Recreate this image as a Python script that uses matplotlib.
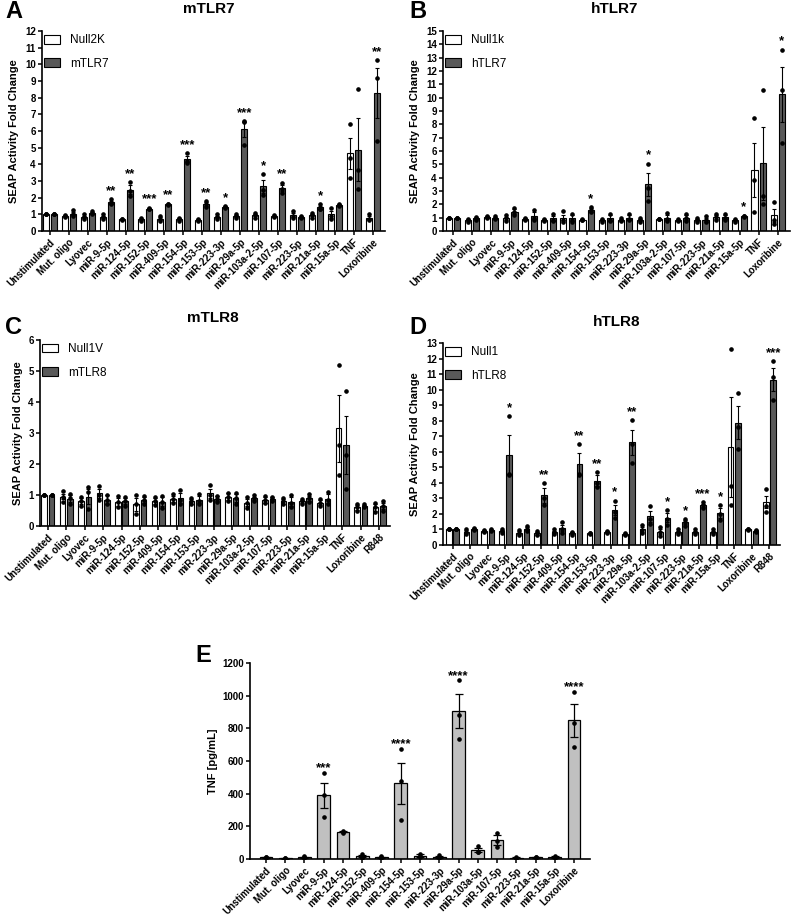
import numpy as np
import matplotlib.pyplot as plt

plt.rcParams['font.family'] = ['Liberation Sans', 'DejaVu Sans']
plt.rcParams['font.weight'] = 'bold'
plt.rcParams['axes.labelweight'] = 'bold'

# ---------------- data ----------------
labels_ab = ["Unstimulated", "Mut. oligo", "Lyovec", "miR-9-5p", "miR-124-5p", "miR-152-5p",
             "miR-409-5p", "miR-154-5p", "miR-153-5p", "miR-223-3p", "miR-29a-5p",
             "miR-103a-2-5p", "miR-107-5p", "miR-223-5p", "miR-21a-5p", "miR-15a-5p",
             "TNF", "Loxoribine"]
labels_cd = labels_ab + ["R848"]
labels_e = ["Unstimulated", "Mut. oligo", "Lyovec", "miR-9-5p", "miR-124-5p", "miR-152-5p",
            "miR-409-5p", "miR-154-5p", "miR-153-5p", "miR-223-3p", "miR-29a-5p",
            "miR-103a-5p", "miR-107-5p", "miR-223-5p", "miR-21a-5p", "miR-15a-5p", "Loxoribine"]

# A: mTLR7
a_null_mean = [1.0, 0.92, 0.85, 0.85, 0.70, 0.70, 0.75, 0.70, 0.68, 0.85, 0.90, 0.95, 0.90, 0.95, 0.95, 1.00, 4.65, 0.80]
a_null_sem = [0.01, 0.03, 0.08, 0.08, 0.01, 0.05, 0.08, 0.06, 0.04, 0.08, 0.07, 0.07, 0.03, 0.12, 0.07, 0.20, 0.95, 0.10]
a_null_pts = [[1, 1, 1], [0.97, 0.92, 0.87], [1.0, 0.85, 0.7], [1.0, 0.85, 0.7], [0.72, 0.7, 0.68],
              [0.8, 0.7, 0.6], [0.9, 0.75, 0.6], [0.8, 0.7, 0.6], [0.75, 0.68, 0.61], [1.0, 0.85, 0.7],
              [1.05, 0.88, 0.77], [1.1, 0.95, 0.8], [0.95, 0.9, 0.85], [1.2, 0.88, 0.77], [1.1, 0.95, 0.8],
              [1.4, 0.9, 0.7], [6.4, 4.4, 3.15], [1.0, 0.75, 0.65]]
a_tlr_mean = [1.0, 1.05, 1.1, 1.73, 2.48, 1.35, 1.6, 4.32, 1.62, 1.45, 6.1, 2.67, 2.57, 0.85, 1.42, 1.57, 4.88, 8.28]
a_tlr_sem = [0.01, 0.1, 0.06, 0.09, 0.25, 0.03, 0.03, 0.17, 0.1, 0.03, 0.46, 0.38, 0.18, 0.04, 0.09, 0.04, 1.9, 1.5]
a_tlr_pts = [[1, 1, 1], [1.25, 1.0, 0.9], [1.2, 1.1, 1.0], [1.9, 1.7, 1.6], [2.95, 2.4, 2.1], [1.4, 1.35, 1.3],
             [1.65, 1.6, 1.55], [4.65, 4.2, 4.1], [1.8, 1.6, 1.45], [1.5, 1.45, 1.4], [6.6, 6.55, 5.15],
             [3.4, 2.45, 2.15], [2.9, 2.5, 2.3], [0.93, 0.85, 0.77], [1.6, 1.35, 1.3], [1.65, 1.55, 1.5],
             [8.5, 3.65, 2.5], [10.25, 9.2, 5.4]]
a_stars = ["", "", "", "**", "**", "***", "**", "***", "**", "*", "***", "*", "**", "", "*", "", "", "**"]

# B: hTLR7
b_null_mean = [1.0, 0.8, 1.05, 0.95, 0.9, 0.85, 1.0, 0.85, 0.8, 0.85, 0.85, 0.9, 0.8, 0.85, 1.05, 0.8, 4.57, 1.17]
b_null_sem = [0.01, 0.07, 0.04, 0.12, 0.05, 0.04, 0.2, 0.03, 0.06, 0.05, 0.08, 0.02, 0.04, 0.08, 0.12, 0.05, 2.05, 0.5]
b_null_pts = [[1, 1, 1], [0.9, 0.8, 0.7], [1.1, 1.05, 1.0], [1.2, 0.95, 0.75], [1.0, 0.9, 0.8], [0.92, 0.85, 0.78],
              [1.5, 0.85, 0.7], [0.9, 0.85, 0.8], [0.9, 0.8, 0.7], [0.95, 0.85, 0.75], [1.0, 0.85, 0.7],
              [0.92, 0.9, 0.88], [0.88, 0.8, 0.72], [1.0, 0.85, 0.7], [1.25, 1.05, 0.85], [0.9, 0.8, 0.7],
              [8.5, 3.8, 1.4], [2.15, 0.8, 0.55]]
b_tlr_mean = [1.0, 0.95, 1.0, 1.45, 1.15, 0.95, 0.95, 1.6, 0.95, 1.0, 3.5, 1.0, 1.0, 0.85, 1.05, 1.1, 5.07, 10.25]
b_tlr_sem = [0.01, 0.05, 0.06, 0.18, 0.25, 0.18, 0.22, 0.15, 0.22, 0.2, 0.85, 0.2, 0.2, 0.15, 0.12, 0.04, 2.75, 2.05]
b_tlr_pts = [[1, 1, 1], [1.05, 0.95, 0.85], [1.1, 1.0, 0.9], [1.75, 1.4, 1.2], [1.6, 1.0, 0.85],
             [1.25, 0.85, 0.75], [1.3, 0.85, 0.7], [1.8, 1.6, 1.4], [1.3, 0.8, 0.75], [1.3, 0.9, 0.8],
             [5.05, 3.2, 2.25], [1.35, 0.9, 0.75], [1.3, 0.95, 0.75], [1.1, 0.8, 0.65], [1.3, 1.0, 0.85],
             [1.15, 1.1, 1.05], [10.6, 2.6, 2.0], [13.6, 10.6, 6.6]]
b_stars = ["", "", "", "", "", "", "", "*", "", "", "*", "", "", "", "", "*", "", "*"]

# C: mTLR8
c_null_mean = [1.0, 0.95, 0.8, 1.05, 0.78, 0.7, 0.8, 0.88, 0.8, 1.05, 0.95, 0.75, 0.85, 0.8, 0.8, 0.75, 3.15, 0.6, 0.6]
c_null_sem = [0.01, 0.09, 0.1, 0.14, 0.12, 0.2, 0.1, 0.1, 0.08, 0.14, 0.1, 0.12, 0.1, 0.08, 0.05, 0.08, 1.07, 0.08, 0.12]
c_null_pts = [[1, 1, 1], [1.12, 0.95, 0.78], [0.95, 0.8, 0.65], [1.3, 1.0, 0.85], [0.97, 0.78, 0.6],
              [1.0, 0.7, 0.4], [0.92, 0.8, 0.68], [1.02, 0.88, 0.74], [0.9, 0.8, 0.7], [1.32, 1.0, 0.83],
              [1.08, 0.95, 0.82], [0.93, 0.75, 0.57], [0.96, 0.85, 0.74], [0.9, 0.8, 0.7], [0.88, 0.8, 0.72],
              [0.87, 0.75, 0.63], [5.2, 2.62, 1.65], [0.7, 0.6, 0.5], [0.75, 0.6, 0.45]]
c_tlr_mean = [1.0, 0.88, 0.95, 0.85, 0.8, 0.85, 0.78, 0.9, 0.85, 0.88, 0.9, 0.9, 0.88, 0.78, 0.9, 0.88, 2.62, 0.65, 0.65]
c_tlr_sem = [0.01, 0.12, 0.25, 0.15, 0.1, 0.1, 0.15, 0.15, 0.12, 0.08, 0.12, 0.05, 0.06, 0.15, 0.08, 0.15, 0.93, 0.04, 0.1]
c_tlr_pts = [[1, 1, 1], [1.03, 0.9, 0.7], [1.25, 1.1, 0.55], [1.0, 0.85, 0.7], [0.95, 0.8, 0.65],
             [0.98, 0.85, 0.72], [0.98, 0.78, 0.58], [1.15, 0.85, 0.7], [1.03, 0.82, 0.7], [0.98, 0.88, 0.78],
             [1.08, 0.9, 0.72], [1.0, 0.9, 0.8], [0.95, 0.88, 0.8], [1.0, 0.75, 0.6], [1.02, 0.9, 0.78],
             [1.1, 0.85, 0.7], [4.35, 2.3, 1.2], [0.7, 0.65, 0.6], [0.8, 0.65, 0.5]]
c_stars = [""] * 19

# D: hTLR8
d_null_mean = [1.0, 0.85, 0.9, 0.9, 0.8, 0.75, 0.85, 0.75, 0.75, 0.85, 0.7, 1.0, 0.85, 0.85, 0.85, 0.85, 6.3, 1.0, 2.75]
d_null_sem = [0.01, 0.1, 0.05, 0.06, 0.1, 0.08, 0.08, 0.06, 0.04, 0.03, 0.03, 0.15, 0.15, 0.07, 0.07, 0.07, 3.2, 0.05, 0.4]
d_null_pts = [[1, 1, 1], [1.0, 0.85, 0.7], [0.97, 0.9, 0.83], [1.0, 0.9, 0.8], [0.97, 0.8, 0.65],
              [0.9, 0.75, 0.62], [1.0, 0.85, 0.72], [0.85, 0.75, 0.66], [0.8, 0.75, 0.7], [0.9, 0.85, 0.8],
              [0.75, 0.7, 0.65], [1.3, 0.95, 0.75], [1.15, 0.85, 0.6], [1.0, 0.85, 0.72], [1.0, 0.85, 0.72],
              [1.0, 0.85, 0.72], [12.6, 3.8, 2.55], [1.05, 1.0, 0.95], [3.6, 2.5, 2.15]]
d_tlr_mean = [1.0, 1.05, 0.95, 5.8, 1.05, 3.2, 1.1, 5.2, 4.15, 2.25, 6.6, 1.85, 1.75, 1.45, 2.55, 2.05, 7.87, 0.9, 10.65]
d_tlr_sem = [0.01, 0.06, 0.04, 1.25, 0.1, 0.48, 0.2, 0.7, 0.35, 0.33, 0.8, 0.35, 0.28, 0.13, 0.12, 0.3, 1.05, 0.05, 0.75]
d_tlr_pts = [[1, 1, 1], [1.12, 1.05, 0.98], [1.0, 0.95, 0.9], [8.3, 4.6, 4.5], [1.2, 1.05, 0.9], [4.0, 3.0, 2.6],
             [1.5, 1.0, 0.8], [6.5, 4.6, 4.5], [4.7, 4.0, 3.75], [2.85, 2.15, 1.75], [8.05, 6.5, 5.25],
             [2.5, 1.7, 1.35], [2.25, 1.7, 1.3], [1.65, 1.45, 1.25], [2.75, 2.55, 2.35], [2.55, 2.0, 1.6],
             [9.8, 7.6, 6.2], [0.98, 0.9, 0.82], [11.85, 10.8, 9.3]]
d_stars = ["", "", "", "*", "", "**", "", "**", "**", "*", "**", "", "*", "*", "***", "*", "", "", "***"]

# E: TNF ELISA
e_mean = [10, 5, 12, 390, 168, 18, 12, 463, 20, 15, 904, 55, 115, 8, 10, 12, 848]
e_sem = [3, 2, 3, 78, 5, 8, 3, 125, 8, 6, 104, 15, 30, 3, 3, 5, 98]
e_pts = [[15, 10, 5], [8, 5, 2], [16, 12, 8], [529, 390, 255], [174, 168, 162], [30, 15, 9], [16, 12, 8],
         [675, 475, 240], [32, 18, 10], [25, 12, 8], [1094, 883, 736], [80, 45, 40], [160, 110, 75],
         [12, 8, 4], [15, 10, 5], [20, 10, 6], [1024, 834, 687]]
e_stars = ["", "", "", "***", "", "", "", "****", "", "", "****", "", "", "", "", "", "****"]

DARK = '#595959'
W, H = 794, 916


def style_axis(ax, labels, ymax, ystep, xlim):
    for s in ['top', 'right']:
        ax.spines[s].set_visible(False)
    for s in ['left', 'bottom']:
        ax.spines[s].set_linewidth(1.2)
    ax.set_xlim(*xlim)
    ax.set_ylim(0, ymax)
    ax.set_yticks(np.arange(0, ymax + ystep / 2, ystep))
    ax.set_xticks(np.arange(len(labels)))
    ax.set_xticklabels(labels, rotation=45, ha='right', rotation_mode='anchor',
                       fontsize=7, fontweight='bold')
    ax.tick_params(axis='both', width=1.1, length=3, labelsize=7, pad=1.5)
    for t in ax.get_yticklabels():
        t.set_fontweight('bold')


def grouped_panel(rect, labels, nm, ns, npts, tm, ts, tpts, stars, names, ymax, xlim, width, off):
    ax = fig.add_axes(rect)
    x = np.arange(len(labels))
    b1 = ax.bar(x - off, nm, width, color='white', edgecolor='black', linewidth=0.8, zorder=2, label=names[0])
    b2 = ax.bar(x + off, tm, width, color=DARK, edgecolor='black', linewidth=0.8, zorder=2, label=names[1])
    ax.errorbar(x - off, nm, yerr=ns, fmt='none', ecolor='black', elinewidth=0.8,
                capsize=1.3, capthick=0.8, zorder=3)
    ax.errorbar(x + off, tm, yerr=ts, fmt='none', ecolor='black', elinewidth=0.8,
                capsize=1.3, capthick=0.8, zorder=3)
    for i in range(len(labels)):
        ax.plot([x[i] - off] * 3, npts[i], 'o', ms=2.3, color='black', zorder=4)
        ax.plot([x[i] + off] * 3, tpts[i], 'o', ms=2.3, color='black', zorder=4)
        if stars[i]:
            top = max(max(tpts[i]), tm[i] + ts[i])
            ax.annotate(stars[i], (x[i] + off, top), xytext=(0, 1.5), textcoords='offset points',
                        ha='center', va='bottom', fontsize=9.5, fontweight='bold')
    style_axis(ax, labels, ymax, 1, xlim)
    ax.set_ylabel('SEAP Activity Fold Change', fontsize=8, fontweight='bold', labelpad=4)
    ax.legend(handles=[b1, b2], loc='upper left', bbox_to_anchor=(0.0, 0.995), frameon=False,
              handlelength=1.35, handleheight=0.75, labelspacing=0.95,
              borderaxespad=0, borderpad=0.2, handletextpad=0.8,
              prop={'weight': 'normal', 'size': 8.5})
    return ax


def rect_px(left, right, top, bottom):
    return [left / W, 1 - bottom / H, (right - left) / W, (bottom - top) / H]


fig = plt.figure(figsize=(W / 100, H / 100), dpi=100)

grouped_panel(rect_px(42, 385, 31, 231), labels_ab, a_null_mean, a_null_sem, a_null_pts,
              a_tlr_mean, a_tlr_sem, a_tlr_pts, a_stars, ['Null2K', 'mTLR7'], 12,
              (-0.42, 17.63), 0.32, 0.22)
grouped_panel(rect_px(443, 790, 31, 231), labels_ab, b_null_mean, b_null_sem, b_null_pts,
              b_tlr_mean, b_tlr_sem, b_tlr_pts, b_stars, ['Null1k', 'hTLR7'], 15,
              (-0.52, 17.64), 0.32, 0.22)
grouped_panel(rect_px(40, 390, 340, 526), labels_cd, c_null_mean, c_null_sem, c_null_pts,
              c_tlr_mean, c_tlr_sem, c_tlr_pts, c_stars, ['Null1V', 'mTLR8'], 6,
              (-0.43, 18.59), 0.3, 0.2)
grouped_panel(rect_px(443, 780, 343, 545), labels_cd, d_null_mean, d_null_sem, d_null_pts,
              d_tlr_mean, d_tlr_sem, d_tlr_pts, d_stars, ['Null1', 'hTLR8'], 13,
              (-0.54, 18.6), 0.32, 0.21)

# Panel E
axe = fig.add_axes(rect_px(250, 590, 663, 859))
xe = np.arange(len(labels_e))
axe.bar(xe, e_mean, 0.66, color='#c0c0c0', edgecolor='black', linewidth=0.9, zorder=2)
axe.errorbar(xe, e_mean, yerr=e_sem, fmt='none', ecolor='black', elinewidth=0.9,
             capsize=3, capthick=0.9, zorder=3)
for i in range(len(labels_e)):
    axe.plot([xe[i]] * 3, e_pts[i], 'o', ms=2.3, color='black', zorder=4)
    if e_stars[i]:
        top = max(max(e_pts[i]), e_mean[i] + e_sem[i])
        axe.annotate(e_stars[i], (xe[i], top), xytext=(0, -1), textcoords='offset points',
                     ha='center', va='bottom', fontsize=9.5, fontweight='bold')
style_axis(axe, labels_e, 1200, 200, (-0.83, 16.83))
axe.set_ylabel('TNF [pg/mL]', fontsize=8, fontweight='bold', labelpad=3)

# titles and panel letters
fig.text(209 / W, 1 - 9 / H, 'mTLR7', ha='center', va='center', fontsize=11, fontweight='bold')
fig.text(615 / W, 1 - 9 / H, 'hTLR7', ha='center', va='center', fontsize=11, fontweight='bold')
fig.text(213 / W, 1 - 318 / H, 'mTLR8', ha='center', va='center', fontsize=11, fontweight='bold')
fig.text(617 / W, 1 - 322 / H, 'hTLR8', ha='center', va='center', fontsize=11, fontweight='bold')
for letter, px, py in [('A', 14, 12), ('B', 418, 11), ('C', 13, 328), ('D', 418, 328), ('E', 203, 655)]:
    fig.text(px / W, 1 - py / H, letter, ha='center', va='center', fontsize=17, fontweight='bold')

fig.savefig('out.png', dpi=100)
